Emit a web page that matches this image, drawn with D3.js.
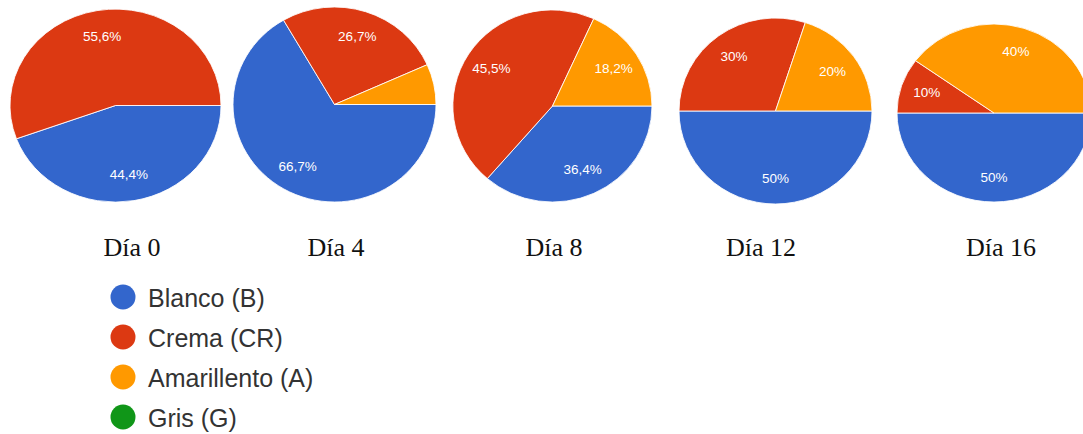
<!DOCTYPE html>
<html>
<head>
<meta charset="utf-8">
<script src="https://cdn.jsdelivr.net/npm/d3@7"></script>
<style>
  html, body { margin: 0; padding: 0; background: #fff; }
  svg { display: block; }
</style>
</head>
<body>
<svg id="chart" width="1083" height="434"></svg>
<script>
// Colour distribution of samples per storage day (percent of samples)
const days = ["Día 0", "Día 4", "Día 8", "Día 12", "Día 16"];
const categories = ["Blanco (B)", "Crema (CR)", "Amarillento (A)", "Gris (G)"];
const blanco      = [44.4, 66.7, 36.4, 50, 50];
const crema       = [55.6, 26.7, 45.5, 30, 10];
const amarillento = [0,    6.7,  18.2, 20, 40];
const gris        = [0,    0,    0,    0,  0];
const colors = ["#3366cc", "#dc3912", "#ff9900", "#109618"];

// Layout of each pie: centre and horizontal / vertical radii, plus title position
const layout = [
  { cx: 115.5, cy: 105.5, rx: 105.5, ry: 96.5, tx: 132 },
  { cx: 334.5, cy: 104.5, rx: 101.5, ry: 97.5, tx: 336 },
  { cx: 552.5, cy: 106,   rx: 99.5,  ry: 96,   tx: 554 },
  { cx: 775.5, cy: 111,   rx: 96.5,  ry: 93,   tx: 761 },
  { cx: 994,   cy: 113,   rx: 97,    ry: 89,   tx: 1001 }
];

const svg = d3.select("#chart");
const series = [blanco, crema, amarillento, gris];

const color = d3.scaleOrdinal().domain(categories).range(colors);

// Slices start at 3 o'clock and run clockwise, in category order
const pie = d3.pie()
  .sort(null)
  .value(d => d.value)
  .startAngle(Math.PI / 2)
  .endAngle(Math.PI / 2 + 2 * Math.PI);

const fmt = v => (Number.isInteger(v) ? String(v) : v.toFixed(1).replace(".", ",")) + "%";

days.forEach((day, i) => {
  const L = layout[i];
  const rows = categories.map((c, k) => ({ cat: c, value: series[k][i] }));
  const arcs = pie(rows).filter(a => a.data.value > 0);

  const unit = d3.arc().innerRadius(0).outerRadius(1);
  const labelArc = d3.arc().innerRadius(0.73).outerRadius(0.73);

  const g = svg.append("g")
    .attr("transform", `translate(${L.cx},${L.cy})`);

  // Unit-radius wedges stretched into an ellipse
  g.append("g")
    .attr("transform", `scale(${L.rx},${L.ry})`)
    .selectAll("path")
    .data(arcs)
    .join("path")
      .attr("d", unit)
      .attr("fill", d => color(d.data.cat))
      .attr("stroke", "#fff")
      .attr("stroke-opacity", 0.85)
      .attr("stroke-width", 1)
      .attr("vector-effect", "non-scaling-stroke");

  // Percentage labels inside the wider slices
  g.selectAll("text")
    .data(arcs.filter(a => a.data.value >= 8))
    .join("text")
      .attr("x", d => labelArc.centroid(d)[0] * L.rx)
      .attr("y", d => labelArc.centroid(d)[1] * L.ry)
      .attr("text-anchor", "middle")
      .attr("dominant-baseline", "central")
      .attr("font-family", "'Liberation Sans', Arial, sans-serif")
      .attr("font-size", 13.5)
      .attr("fill", "#fff")
      .text(d => fmt(d.data.value));

  // Day title below the pie
  svg.append("text")
    .attr("x", L.tx)
    .attr("y", 256)
    .attr("text-anchor", "middle")
    .attr("font-family", "'Liberation Serif', 'Times New Roman', serif")
    .attr("font-size", 26)
    .attr("fill", "#111")
    .text(day);
});

// Legend
const legend = svg.append("g").attr("transform", "translate(123,297)");
const item = legend.selectAll("g")
  .data(categories)
  .join("g")
    .attr("transform", (d, k) => `translate(0,${k * 40})`);
item.append("circle")
  .attr("r", 12.5)
  .attr("fill", d => color(d));
item.append("text")
  .attr("x", 25)
  .attr("y", 1)
  .attr("dominant-baseline", "central")
  .attr("font-family", "'Liberation Sans', Arial, sans-serif")
  .attr("font-size", 25)
  .attr("fill", "#333")
  .text(d => d);
</script>
</body>
</html>
